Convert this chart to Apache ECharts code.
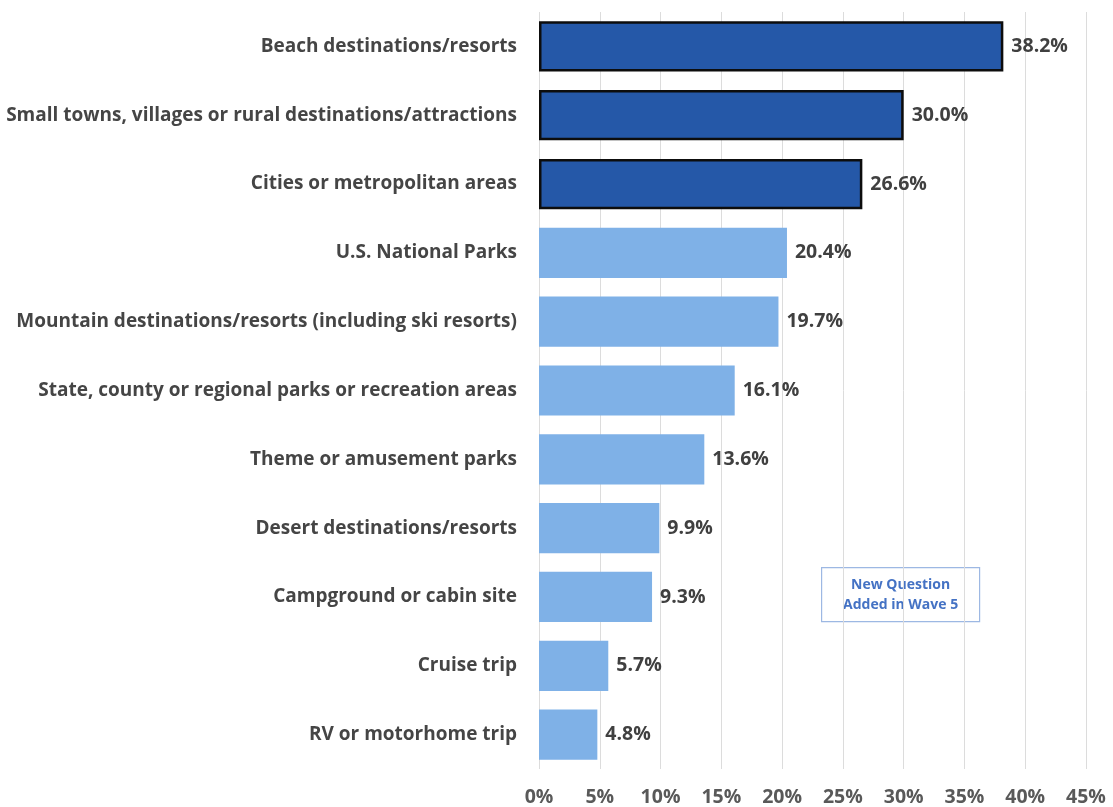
<!DOCTYPE html>
<html>
<head>
<meta charset="utf-8">
<script src="https://cdn.jsdelivr.net/npm/echarts@6/dist/echarts.min.js"></script>
<style>
  html, body { margin: 0; padding: 0; background: #ffffff; }
  #chart { width: 1113px; height: 807px; }
</style>
</head>
<body>
<div id="chart"></div>
<script>
// Destination types, ranked by share of respondents
const categories = [
  'Beach destinations/resorts',
  'Small towns, villages or rural destinations/attractions',
  'Cities or metropolitan areas',
  'U.S. National Parks',
  'Mountain destinations/resorts (including ski resorts)',
  'State, county or regional parks or recreation areas',
  'Theme or amusement parks',
  'Desert destinations/resorts',
  'Campground or cabin site',
  'Cruise trip',
  'RV or motorhome trip'
];
const shares = [38.2, 30.0, 26.6, 20.4, 19.7, 16.1, 13.6, 9.9, 9.3, 5.7, 4.8];
// Number of leading categories drawn as highlighted (dark, outlined) bars
const highlightCount = 3;
const axisTicks = [0, 5, 10, 15, 20, 25, 30, 35, 40, 45];
const noteLines = ['New Question', 'Added in Wave 5'];

const FONT = '"Open Sans", Lato, sans-serif';
const DARK = '#2558a8';
const LIGHT = '#7fb1e7';

const chart = echarts.init(document.getElementById('chart'), null, { renderer: 'canvas' });

const barData = shares.map((v, i) => ({
  value: v,
  itemStyle: i < highlightCount
    ? { color: DARK, borderColor: '#0d0d0d', borderWidth: 2.5 }
    : { color: LIGHT, borderWidth: 0 }
}));

chart.setOption({
  backgroundColor: '#ffffff',
  animation: false,
  grid: { left: 539, right: 27, top: 12, bottom: 37 },
  xAxis: {
    type: 'value',
    min: axisTicks[0],
    max: axisTicks[axisTicks.length - 1],
    interval: axisTicks[1] - axisTicks[0],
    axisLine: { show: false },
    axisTick: { show: false },
    splitLine: { show: true, lineStyle: { color: '#dcdcdc', width: 1 } },
    axisLabel: {
      formatter: '{value}%',
      color: '#595959',
      fontFamily: FONT,
      fontWeight: 'bold',
      fontSize: 19.5,
      margin: 18
    }
  },
  yAxis: {
    type: 'category',
    data: categories,
    inverse: true,
    axisLine: { show: false },
    axisTick: { show: false },
    splitLine: { show: false },
    axisLabel: {
      color: '#454545',
      fontFamily: FONT,
      fontWeight: 'bold',
      fontSize: 19,
      margin: 22
    }
  },
  series: [{
    type: 'bar',
    data: barData,
    barCategoryGap: '27%',
    label: {
      show: true,
      position: 'right',
      distance: 8,
      formatter: p => p.value.toFixed(1) + '%',
      color: '#404040',
      fontFamily: FONT,
      fontWeight: 'bold',
      fontSize: 19.5
    }
  }],
  graphic: [{
    type: 'group',
    left: 821,
    top: 567,
    children: [
      {
        type: 'rect',
        shape: { x: 0, y: 0, width: 158, height: 54 },
        style: { fill: '#ffffff', stroke: '#9db8e3', lineWidth: 1.2 }
      },
      {
        type: 'text',
        style: {
          x: 79, y: 17,
          text: noteLines[0],
          align: 'center', verticalAlign: 'middle',
          fill: '#4472c4',
          font: 'bold 14px ' + FONT
        }
      },
      {
        type: 'text',
        style: {
          x: 79, y: 37,
          text: noteLines[1],
          align: 'center', verticalAlign: 'middle',
          fill: '#4472c4',
          font: 'bold 14px ' + FONT
        }
      }
    ]
  }]
});
</script>
</body>
</html>
